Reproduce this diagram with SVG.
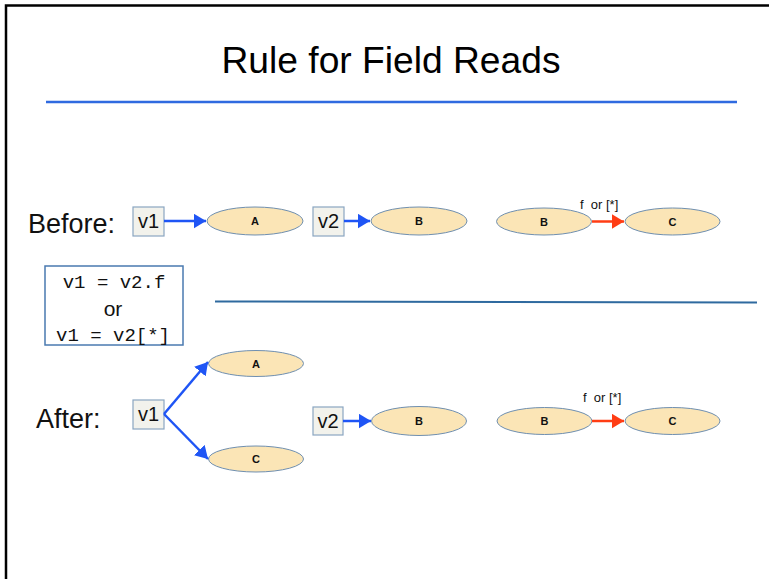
<svg xmlns="http://www.w3.org/2000/svg" width="769" height="579" viewBox="0 0 769 579">
<style>
.title{font-family:"Liberation Sans",Arial,sans-serif;font-size:37px;fill:#000}
.lbl{font-family:"Liberation Sans",Arial,sans-serif;font-size:27px;fill:#111}
.var{font-family:"Liberation Sans",Arial,sans-serif;font-size:20px;fill:#111}
.box{fill:#f2f2ec;stroke:#8aa6c1;stroke-width:1.2}
.ell{fill:#fbe5b6;stroke:#6f8fb0;stroke-width:1}
.et{font-family:"Liberation Sans",Arial,sans-serif;font-size:11px;font-weight:bold;fill:#111;text-anchor:middle}
.edge{font-family:"Liberation Sans",Arial,sans-serif;font-size:13px;fill:#111;white-space:pre}
.mono{font-family:"Liberation Mono","Courier New",monospace;font-size:19px;fill:#111;text-anchor:middle}
.blue{stroke:#1f55f5;stroke-width:2.5;fill:none}
.red{stroke:#ff3d14;stroke-width:2.5;fill:none}
</style>
<defs>
<marker id="ab" markerWidth="6" markerHeight="6" refX="5" refY="3" orient="auto" markerUnits="strokeWidth"><path d="M0,0 L5,3 L0,6 z" fill="#1f55f5"/></marker>
<marker id="ar" markerWidth="6" markerHeight="6" refX="5" refY="3" orient="auto" markerUnits="strokeWidth"><path d="M0,0 L5,3 L0,6 z" fill="#ff3d14"/></marker>
</defs>
<rect width="769" height="579" fill="#fff"/>
<path d="M6,579 V5.5 H769" fill="none" stroke="#000" stroke-width="2.5"/>
<text class="title" x="391" y="73" text-anchor="middle" textLength="339" lengthAdjust="spacingAndGlyphs">Rule for Field Reads</text>
<line x1="46" y1="102" x2="737" y2="102" stroke="#2f6ae0" stroke-width="2.5"/>
<line x1="215" y1="301.5" x2="757" y2="302.5" stroke="#2f6a9f" stroke-width="2"/>
<text class="lbl" x="28" y="233">Before:</text>
<text class="lbl" x="36" y="428">After:</text>
<g id="formula">
<rect x="45" y="266" width="138" height="79" fill="#fff" stroke="#4a7ab0" stroke-width="1.5"/>
<text class="mono" x="114" y="288">v1 = v2.f</text>
<text x="113" y="316" font-family="Liberation Sans,Arial,sans-serif" font-size="21" fill="#111" text-anchor="middle">or</text>
<text class="mono" x="113" y="341">v1 = v2[*]</text>
</g>
<g id="before-v1"><rect class="box" x="133" y="207" width="31" height="29"/><text class="var" x="148.5" y="228" text-anchor="middle">v1</text></g>
<g id="before-A"><ellipse class="ell" cx="255" cy="221" rx="48" ry="14"/><text class="et" x="255" y="225">A</text></g>
<g id="before-v2"><rect class="box" x="313" y="207" width="31" height="29"/><text class="var" x="328.5" y="228" text-anchor="middle">v2</text></g>
<g id="before-B"><ellipse class="ell" cx="419" cy="221" rx="48" ry="14"/><text class="et" x="419" y="225">B</text></g>
<g id="before-B2"><ellipse class="ell" cx="544" cy="221.5" rx="47.5" ry="13.5"/><text class="et" x="544" y="225.5">B</text></g>
<g id="before-C"><ellipse class="ell" cx="672.5" cy="221.5" rx="47.5" ry="13.5"/><text class="et" x="672.5" y="225.5">C</text></g>
<g id="after-v1"><rect class="box" x="133" y="400" width="31" height="29"/><text class="var" x="148.5" y="421" text-anchor="middle">v1</text></g>
<g id="after-A"><ellipse class="ell" cx="256" cy="363.5" rx="47.5" ry="13"/><text class="et" x="256" y="367.5">A</text></g>
<g id="after-C"><ellipse class="ell" cx="256" cy="459" rx="47.5" ry="13"/><text class="et" x="256" y="463">C</text></g>
<g id="after-v2"><rect class="box" x="313" y="407" width="30" height="28"/><text class="var" x="328" y="428" text-anchor="middle">v2</text></g>
<g id="after-B"><ellipse class="ell" cx="419" cy="421" rx="47.5" ry="14.5"/><text class="et" x="419" y="425">B</text></g>
<g id="after-B2"><ellipse class="ell" cx="544.5" cy="421" rx="47.5" ry="13.5"/><text class="et" x="544.5" y="425">B</text></g>
<g id="after-C2"><ellipse class="ell" cx="672.5" cy="421" rx="47.5" ry="13.5"/><text class="et" x="672.5" y="425">C</text></g>
<g id="connectors">
<line class="blue" x1="164" y1="221" x2="206" y2="221" marker-end="url(#ab)"/>
<line class="blue" x1="344" y1="221" x2="370" y2="221" marker-end="url(#ab)"/>
<line class="red" x1="592" y1="221.5" x2="624" y2="221.5" marker-end="url(#ar)"/>
<text class="edge" x="580" y="209" xml:space="preserve">f  or [*]</text>
<line class="blue" x1="164" y1="414" x2="208" y2="362" marker-end="url(#ab)"/>
<line class="blue" x1="164" y1="414" x2="208" y2="459" marker-end="url(#ab)"/>
<line class="blue" x1="343" y1="421" x2="371" y2="421" marker-end="url(#ab)"/>
<line class="red" x1="592" y1="421" x2="624" y2="421" marker-end="url(#ar)"/>
<text class="edge" x="583" y="402" xml:space="preserve">f  or [*]</text>
</g>
</svg>
